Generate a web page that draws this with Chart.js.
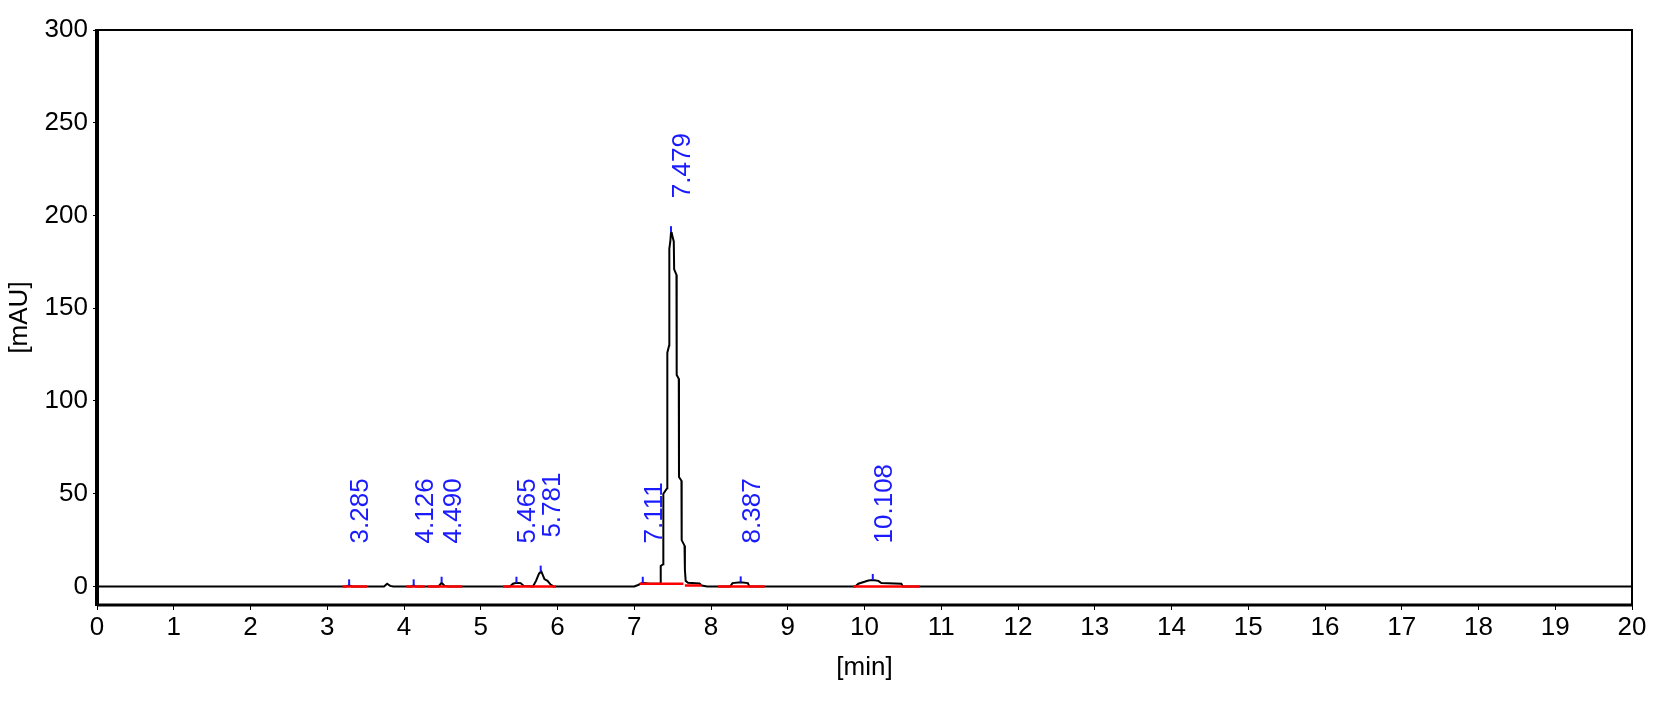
<!DOCTYPE html>
<html>
<head>
<meta charset="utf-8">
<script src="https://cdn.jsdelivr.net/npm/chart.js@4.4.1/dist/chart.umd.min.js"></script>
<style>
body{margin:0;background:#fff;}
#wrap{width:1657px;height:705px;position:relative;}
</style>
</head>
<body>
<div id="wrap"><canvas id="chrom"></canvas></div>
<script>
// signal trace (min, mAU)
const timeMin = [0,3.25,3.285,3.32,3.74,3.78,3.82,3.86,4.10,4.126,4.15,4.45,4.49,4.53,4.58,
  5.38,5.42,5.465,5.52,5.56,5.68,5.72,5.76,5.79,5.83,5.87,5.91,5.95,
  7.00,7.05,7.111,7.20,7.30,7.34,7.345,7.375,7.379,7.428,7.431,7.455,7.457,7.47,7.479,
  7.49,7.515,7.52,7.55,7.553,7.58,7.583,7.615,7.618,7.655,7.66,7.67,7.70,7.85,7.88,7.95,
  8.25,8.28,8.387,8.48,8.50,9.88,9.92,10.00,10.05,10.108,10.18,10.22,10.48,10.50,20];
const signal = [0,0,0.6,0,0,1.5,0.3,0,0,0.6,0,0,2,0.3,0,
  0,1.5,2,1.8,0.3,0,3,7,8,4,3,1,0,
  0,0.8,2,1.5,1.4,1.5,11,12,50,53,126,130,182,186,191,
  190,186,171,168,114,112,59,57,25,22,9,3,2,1.6,0.5,0,
  0,1.8,2.2,1.8,0,0,1.5,2.5,3.2,3.5,3,1.8,1.5,0,0];

// integration baselines (start, end in min; level in mAU)
const baseStart  = [3.20,4.03,4.31,5.29,7.07,7.66,8.09,9.85];
const baseEnd    = [3.52,4.27,4.76,5.98,7.64,7.88,8.70,10.72];
const baseStartY = [0,0,0,0,1.4,0.5,0,0];
const baseEndY   = [0,0,0,0,1.4,0.5,0,0];

// peak annotations
const peakTimes   = [3.285,4.126,4.490,5.465,5.781,7.111,7.479,8.387,10.108];
const peakLabels  = ['3.285','4.126','4.490','5.465','5.781','7.111','7.479','8.387','10.108'];
const peakHeights = [0.6,0.6,2,2,8,2,191,2.2,3.5];

const xTicks = [0,1,2,3,4,5,6,7,8,9,10,11,12,13,14,15,16,17,18,19,20];
const yTicks = [0,50,100,150,200,250,300];

const FONT = '"Liberation Sans", Arial, sans-serif';

const traceData = timeMin.map((t,i)=>({x:t,y:signal[i]}));
const baseData = [];
baseStart.forEach((s,i)=>{
  baseData.push({x:s,y:baseStartY[i]},{x:baseEnd[i],y:baseEndY[i]},{x:baseEnd[i],y:null});
});

const peakPlugin = {
  id:'peaks',
  afterDatasetsDraw(chart){
    const {ctx, scales:{x,y}} = chart;
    ctx.save();
    ctx.strokeStyle = '#1a1aff';
    ctx.fillStyle = '#1a1aff';
    ctx.lineWidth = 2;
    ctx.font = '26px ' + FONT;
    peakTimes.forEach((t,i)=>{
      const px = x.getPixelForValue(t);
      const py = y.getPixelForValue(peakHeights[i]);
      ctx.beginPath();
      ctx.moveTo(px, py);
      ctx.lineTo(px, py-6);
      ctx.stroke();
      const ly = Math.min(py - 34, y.getPixelForValue(0) - 43);
      ctx.save();
      ctx.translate(px, ly);
      ctx.rotate(-Math.PI/2);
      ctx.textAlign = 'left';
      ctx.textBaseline = 'alphabetic';
      ctx.fillText(peakLabels[i], 0, 19);
      ctx.restore();
    });
    ctx.restore();
  },
  afterDraw(chart){
    const {ctx, chartArea:a} = chart;
    ctx.save();
    ctx.strokeStyle = '#000';
    ctx.lineWidth = 2;
    ctx.beginPath();
    ctx.moveTo(a.left, a.top); ctx.lineTo(a.right, a.top); ctx.lineTo(a.right, a.bottom);
    ctx.stroke();
    ctx.lineWidth = 3;
    ctx.beginPath();
    ctx.moveTo(a.left, a.bottom); ctx.lineTo(a.right, a.bottom);
    ctx.stroke();
    ctx.lineWidth = 4;
    ctx.beginPath();
    ctx.moveTo(a.left, a.top-1); ctx.lineTo(a.left, a.bottom+1);
    ctx.stroke();
    ctx.restore();
  }
};

new Chart(document.getElementById('chrom'), {
  type:'line',
  data:{
    datasets:[
      {
        label:'baseline',
        data:baseData,
        borderColor:'#ff0000',
        borderWidth:2.5,
        pointRadius:0,
        spanGaps:false,
        tension:0
      },
      {
        label:'signal',
        data:traceData,
        borderColor:'#000',
        borderWidth:2,
        pointRadius:0,
        tension:0
      }
    ]
  },
  options:{
    responsive:true,
    maintainAspectRatio:false,
    animation:false,
    layout:{padding:{top:30,right:25,left:0,bottom:0}},
    plugins:{legend:{display:false},tooltip:{enabled:false}},
    scales:{
      x:{
        type:'linear',
        min:0,max:20,
        afterBuildTicks:s=>{ s.ticks = xTicks.map(v=>({value:v})); },
        afterFit:s=>{ s.height = 100; },
        ticks:{color:'#000',font:{family:FONT,size:26},padding:2,maxRotation:0,autoSkip:false},
        grid:{drawOnChartArea:false,drawTicks:true,tickLength:5,color:'#000',lineWidth:1},
        border:{display:false},
        title:{display:true,text:'[min]',color:'#000',font:{family:FONT,size:26},padding:{top:0,bottom:22}}
      },
      y:{
        min:-10,max:300,
        afterBuildTicks:s=>{ s.ticks = yTicks.map(v=>({value:v})); },
        afterFit:s=>{ s.width = 97; },
        ticks:{color:'#000',font:{family:FONT,size:26},padding:5},
        grid:{drawOnChartArea:false,drawTicks:true,tickLength:4,color:'#000',lineWidth:1},
        border:{display:false},
        title:{display:true,text:'[mAU]',color:'#000',font:{family:FONT,size:26},padding:{top:4,bottom:0}}
      }
    }
  },
  plugins:[peakPlugin]
});
</script>
</body>
</html>
